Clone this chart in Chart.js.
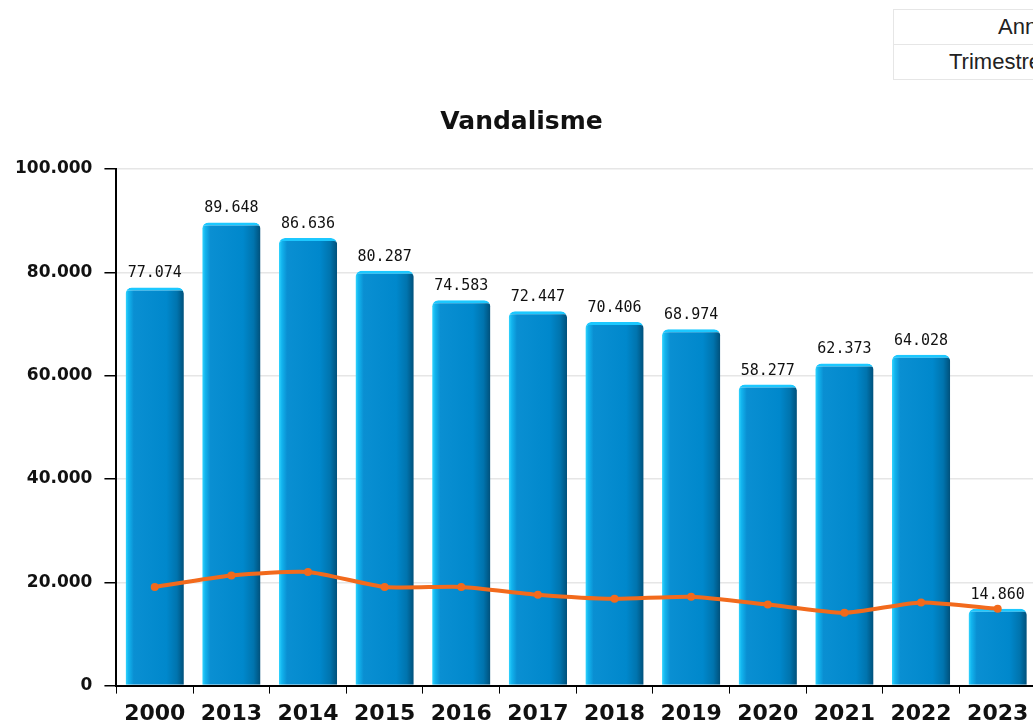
<!DOCTYPE html>
<html>
<head>
<meta charset="utf-8">
<script src="https://cdn.jsdelivr.net/npm/chart.js@4"></script>
<style>
  html, body { margin: 0; padding: 0; background: #fff; overflow: hidden; }
  #wrap { position: absolute; left: 0; top: 0; width: 1040px; height: 739px; }
  #choix { position: absolute; left: 893px; top: 9px; width: 200px; font-family: "Liberation Sans", Arial, sans-serif; font-size: 22px; color: #222; }
  #choix div { position: relative; height: 34px; border: 1px solid #e6e6e6; }
  #choix div + div { border-top: none; }
  #choix span { position: absolute; top: 4px; }
</style>
</head>
<body>
<div id="choix">
  <div><span style="left:104px">Année</span></div>
  <div><span style="left:55px">Trimestre</span></div>
</div>
<div id="wrap"><canvas id="graphe"></canvas></div>
<script>
const annees = ["2000", "2013", "2014", "2015", "2016", "2017", "2018", "2019", "2020", "2021", "2022", "2023"];
const faitsVandalisme = [77074, 89648, 86636, 80287, 74583, 72447, 70406, 68974, 58277, 62373, 64028, 14860];
const courbeVandalisme = [19100, 21300, 22000, 19100, 19100, 17600, 16800, 17200, 15700, 14100, 16100, 14860];
const graduationsY = [0, 20000, 40000, 60000, 80000, 100000];

function formatNombre(v) {
    return v.toString().replace(/\B(?=(\d{3})+(?!\d))/g, ".");
}

// degradé horizontal de chaque barre
function degradeBarre(context) {
    const chart = context.chart;
    const x = chart.scales.x;
    if (!x || !chart.chartArea) return '#0088cc';
    const centre = x.getPixelForValue(context.dataIndex);
    const largeur = (x.width / annees.length) * 0.76;
    const g = chart.ctx.createLinearGradient(centre - largeur / 2, 0, centre + largeur / 2, 0);
    g.addColorStop(0, '#33d6ff');
    g.addColorStop(0.05, '#12b4ee');
    g.addColorStop(0.14, '#0a8fd2');
    g.addColorStop(0.7, '#0088cc');
    g.addColorStop(0.88, '#0074ae');
    g.addColorStop(1, '#00507a');
    return g;
}

const etiquettesBarres = {
    id: 'etiquettesBarres',
    afterDatasetsDraw(chart) {
        const ctx = chart.ctx;
        const meta = chart.getDatasetMeta(1);
        ctx.save();
        ctx.font = '15px "DejaVu Sans Mono"';
        ctx.fillStyle = '#111';
        ctx.textAlign = 'center';
        ctx.textBaseline = 'alphabetic';
        meta.data.forEach((el, i) => {
            ctx.fillText(formatNombre(faitsVandalisme[i]), el.x, el.y - 10);
        });
        ctx.restore();
    }
};

const ctx = document.getElementById('graphe');
let graphique = new Chart(ctx, {
    data: {
        labels: annees,
        datasets: [
            {
                type: 'line',
                label: 'Tendance',
                data: courbeVandalisme,
                borderColor: '#f26a1c',
                backgroundColor: '#f26a1c',
                borderWidth: 4,
                pointRadius: 4,
                pointBorderWidth: 0,
                tension: 0.2,
                order: 0,
            },
            {
                type: 'bar',
                label: 'Vandalisme',
                data: faitsVandalisme,
                backgroundColor: degradeBarre,
                borderColor: '#1cc8ff',
                borderWidth: { top: 3, left: 0, right: 0, bottom: 0 },
                borderSkipped: 'bottom',
                borderRadius: { topLeft: 6, topRight: 6 },
                barPercentage: 0.76,
                categoryPercentage: 1,
                order: 1,
            },
        ],
    },
    plugins: [etiquettesBarres],
    options: {
        responsive: true,
        maintainAspectRatio: false,
        animation: false,
        layout: { padding: { top: 107, left: 3, right: 0, bottom: 5 } },
        plugins: {
            legend: { display: false },
            tooltip: { enabled: false },
            title: {
                display: true,
                text: 'Vandalisme',
                color: '#111',
                font: { family: '"DejaVu Sans"', size: 25, weight: 'bold', lineHeight: 1.2 },
                padding: { top: 0, bottom: 32 },
            },
        },
        scales: {
            x: {
                grid: { drawOnChartArea: false, color: '#000', tickColor: '#000', tickLength: 8, offset: true },
                border: { color: '#000', width: 2 },
                ticks: {
                    color: '#111',
                    font: { family: '"DejaVu Sans"', size: 22, weight: 'bold' },
                    padding: 7,
                    maxRotation: 0,
                    autoSkip: false,
                },
            },
            y: {
                min: 0,
                max: 100000,
                afterBuildTicks(axis) {
                    axis.ticks = graduationsY.map(v => ({ value: v }));
                },
                grid: { color: '#e6e6e6', tickColor: '#000', tickLength: 12, lineWidth: 1.5 },
                border: { color: '#000', width: 2 },
                ticks: {
                    color: '#111',
                    font: { family: '"DejaVu Sans"', size: 17, weight: 'bold' },
                    padding: 12,
                    callback: v => formatNombre(v),
                },
            },
        },
    },
});
</script>
</body>
</html>
